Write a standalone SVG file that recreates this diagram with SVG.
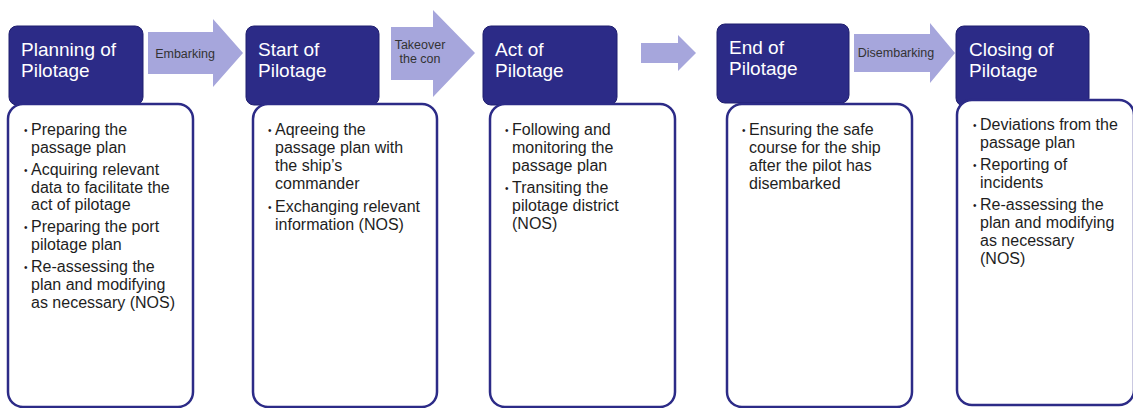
<svg xmlns="http://www.w3.org/2000/svg" width="1133" height="408" viewBox="0 0 1133 408">
<style>
.hdr{fill:#2c2b87;stroke:#1f1e6e;stroke-width:1}
.body{fill:#ffffff;stroke:#2c2b87;stroke-width:2.5}
.ht{font-family:"Liberation Sans",Arial,sans-serif;font-size:19px;fill:#ffffff}
.bt{font-family:"Liberation Sans",Arial,sans-serif;font-size:16px;fill:#1e1e1e}
.bl{font-size:10px}
.arr{fill:#a6a6dc}
.at{font-family:"Liberation Sans",Arial,sans-serif;font-size:12.5px;fill:#333333;text-anchor:middle}
</style>
<rect width="1133" height="408" fill="#ffffff"/>
<g id="connectors">
<polygon class="arr" points="148,32 213,32 213,19 243,53 213,87 213,74 148,74"/>
<text class="at" x="185" y="58">Embarking</text>
<polygon class="arr" points="391,27 433,27 433,10 475,53 433,97 433,80 391,80"/>
<text class="at" x="420" y="49">Takeover</text>
<text class="at" x="420" y="63">the con</text>
<polygon class="arr" points="641,43 678,43 678,35 696,53 678,71 678,63 641,63"/>
<polygon class="arr" points="854,34 930,34 930,23 955,53 930,83 930,72 854,72"/>
<text class="at" x="896" y="57">Disembarking</text>
</g>
<g id="node-planning">
<rect class="hdr" x="9" y="26" width="134" height="79" rx="8"/>
<text class="ht" x="21" y="56">Planning of</text>
<text class="ht" x="21" y="77">Pilotage</text>
<rect class="body" x="8" y="104" width="185" height="303" rx="15"/>
<text class="bt" x="31" y="135"><tspan class="bl" x="24" dy="-1">•</tspan><tspan x="31" dy="1">Preparing the</tspan></text>
<text class="bt" x="31" y="153">passage plan</text>
<text class="bt" x="31" y="175"><tspan class="bl" x="24" dy="-1">•</tspan><tspan x="31" dy="1">Acquiring relevant</tspan></text>
<text class="bt" x="31" y="192.5">data to facilitate the</text>
<text class="bt" x="31" y="210">act of pilotage</text>
<text class="bt" x="31" y="232"><tspan class="bl" x="24" dy="-1">•</tspan><tspan x="31" dy="1">Preparing the port</tspan></text>
<text class="bt" x="31" y="250">pilotage plan</text>
<text class="bt" x="31" y="272"><tspan class="bl" x="24" dy="-1">•</tspan><tspan x="31" dy="1">Re-assessing the</tspan></text>
<text class="bt" x="31" y="290">plan and modifying</text>
<text class="bt" x="31" y="308">as necessary (NOS)</text>
</g>
<g id="node-start">
<rect class="hdr" x="246" y="26" width="133" height="79" rx="8"/>
<text class="ht" x="258" y="56">Start of</text>
<text class="ht" x="258" y="77">Pilotage</text>
<rect class="body" x="253" y="104" width="184" height="303" rx="15"/>
<text class="bt" x="275" y="135"><tspan class="bl" x="268" dy="-1">•</tspan><tspan x="275" dy="1">Aqreeing the</tspan></text>
<text class="bt" x="275" y="153">passage plan with</text>
<text class="bt" x="275" y="171">the ship’s</text>
<text class="bt" x="275" y="189">commander</text>
<text class="bt" x="275" y="212"><tspan class="bl" x="268" dy="-1">•</tspan><tspan x="275" dy="1">Exchanging relevant</tspan></text>
<text class="bt" x="275" y="230">information (NOS)</text>
</g>
<g id="node-act">
<rect class="hdr" x="483" y="26" width="134" height="79" rx="8"/>
<text class="ht" x="495" y="56">Act of</text>
<text class="ht" x="495" y="77">Pilotage</text>
<rect class="body" x="490" y="104" width="185" height="303" rx="15"/>
<text class="bt" x="512" y="135"><tspan class="bl" x="505" dy="-1">•</tspan><tspan x="512" dy="1">Following and</tspan></text>
<text class="bt" x="512" y="153">monitoring the</text>
<text class="bt" x="512" y="171">passage plan</text>
<text class="bt" x="512" y="193"><tspan class="bl" x="505" dy="-1">•</tspan><tspan x="512" dy="1">Transiting the</tspan></text>
<text class="bt" x="512" y="211">pilotage district</text>
<text class="bt" x="512" y="229">(NOS)</text>
</g>
<g id="node-end">
<rect class="hdr" x="717" y="24" width="132" height="79" rx="8"/>
<text class="ht" x="729" y="54">End of</text>
<text class="ht" x="729" y="75">Pilotage</text>
<rect class="body" x="727" y="104" width="185" height="303" rx="15"/>
<text class="bt" x="749" y="135"><tspan class="bl" x="742" dy="-1">•</tspan><tspan x="749" dy="1">Ensuring the safe</tspan></text>
<text class="bt" x="749" y="153">course for the ship</text>
<text class="bt" x="749" y="171">after the pilot has</text>
<text class="bt" x="749" y="189">disembarked</text>
</g>
<g id="node-closing">
<rect class="hdr" x="956" y="26" width="133" height="80" rx="8"/>
<text class="ht" x="969" y="56">Closing of</text>
<text class="ht" x="969" y="77">Pilotage</text>
<rect class="body" x="957" y="100" width="177" height="305" rx="15"/>
<text class="bt" x="980" y="130"><tspan class="bl" x="973" dy="-1">•</tspan><tspan x="980" dy="1">Deviations from the</tspan></text>
<text class="bt" x="980" y="148">passage plan</text>
<text class="bt" x="980" y="170"><tspan class="bl" x="973" dy="-1">•</tspan><tspan x="980" dy="1">Reporting of</tspan></text>
<text class="bt" x="980" y="188">incidents</text>
<text class="bt" x="980" y="210"><tspan class="bl" x="973" dy="-1">•</tspan><tspan x="980" dy="1">Re-assessing the</tspan></text>
<text class="bt" x="980" y="228">plan and modifying</text>
<text class="bt" x="980" y="246">as necessary</text>
<text class="bt" x="980" y="264">(NOS)</text>
</g>
</svg>
